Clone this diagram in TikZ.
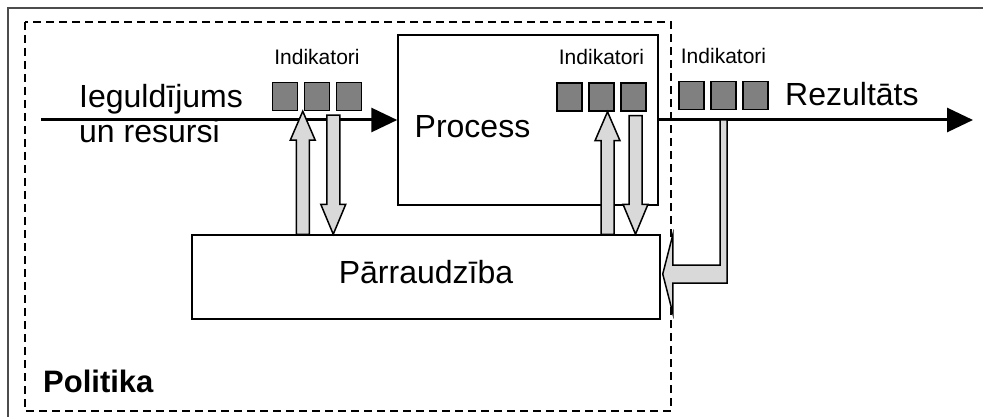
\documentclass[tikz,border=0pt]{standalone}
\usepackage{fontspec}
\setmainfont{Liberation Sans}
\usetikzlibrary{arrows.meta,positioning,calc}

% block arrow: #1 tail, #2 tip, #3 head length (negative points down)
\newcommand{\blkarrow}[3]{%
  \draw[blockarrow] let \p1=#1, \p2=#2 in
    ({\x1-6.5pt},\y1) -- ({\x1-6.5pt},{\y2-(#3)}) -- ({\x1-12.5pt},{\y2-(#3)}) -- (\x2,\y2)
    -- ({\x1+12.5pt},{\y2-(#3)}) -- ({\x1+6.5pt},{\y2-(#3)}) -- ({\x1+6.5pt},\y1) -- cycle;}

\begin{document}
\begin{tikzpicture}[
		x=1pt,y=-1pt,
		box/.style={draw,fill=white,line width=1.5pt,inner sep=0pt},
		ind/.style={draw,fill=gray,line width=1.5pt,minimum width=25pt,minimum height=28pt,inner sep=0pt},
		bigtxt/.style={font=\fontsize{32}{36}\selectfont,inner sep=0pt},
		smalltxt/.style={font=\fontsize{21}{24}\selectfont,inner sep=0pt},
		flow/.style={line width=3pt,-{Triangle[length=26pt,width=24pt]}},
		blockarrow/.style={fill=black!15,draw,line width=1.5pt,line join=miter},
		polframe/.style={dash pattern=on 8pt off 5pt,line width=2pt}
		]
		\useasboundingbox (0,0) rectangle (983,417);
		\draw[black!70,line width=1.5pt] (8,8) rectangle (1000,430);
		\draw[polframe] (25,22) rectangle (671,411);

		\node[box,minimum width=260pt,minimum height=170pt] (process) at (528,120) {};
		\node[bigtxt,anchor=base west] (proctxt) at (414.5,138) {Process};

		\coordinate (in) at (41,120);
		\coordinate (out) at (973,120);
		\draw[flow] (in) -- (process.west);
		\draw[flow] (process.east) -- (out);

		\node[box,bigtxt,minimum width=468pt,minimum height=84pt,text height=22pt,text depth=10pt] (mon) at (426,277) {Pārraudzība};

		% indicators
		\path (285,96.5) node[ind] (s11) {} ++(32,0) node[ind] (s12) {} ++(32,0) node[ind] (s13) {};
		\path (569.5,97) node[ind] (s21) {} ++(32,0) node[ind] (s22) {} ++(32,0) node[ind] (s23) {};
		\path (691.5,95.5) node[ind] (s31) {} ++(32,0) node[ind] (s32) {} ++(32,0) node[ind] (s33) {};
		\node[smalltxt,above=17pt of s12] (ind1) {Indikatori};
		\node[smalltxt,above=17pt of s22] (ind2) {Indikatori};
		\node[smalltxt,above=17pt of s32] (ind3) {Indikatori};

		\node[bigtxt,anchor=base west] (inp1) at (79,108) {Ieguldījums};
		\node[bigtxt,anchor=base west] (inp2) at (79,143) {un resursi};
		\node[bigtxt,anchor=base west] (res) at (785,106) {Rezultāts};
		\node[bigtxt,font=\fontsize{31}{35}\selectfont\bfseries,anchor=base west] (pol) at (43,392) {Politika};

		% measuring arrows
		\coordinate (u1) at ($(s12.south west)+(-1,0)$);
		\coordinate (d1) at ($(s12.south east)+(3,4)$);
		\coordinate (u2) at ($(s22.south)+(6,0)$);
		\coordinate (d2) at ($(s23.south)+(2,4)$);
		\blkarrow{(u1 |- mon.north)}{(u1)}{29pt}
		\blkarrow{(d1)}{(d1 |- mon.north)}{-30pt}
		\blkarrow{(u2 |- mon.north)}{(u2)}{29pt}
		\blkarrow{(d2)}{(d2 |- mon.north)}{-30pt}

		% feedback from result
		\coordinate (fbtip) at ($(mon.east)+(2,-3)$);
		\draw[blockarrow] let \p1=(s32.south |- out), \p2=(fbtip) in
		  ({\x1-3.5pt},\y1) -- ({\x1-3.5pt},{\y2+9pt}) -- ({\x2+10pt},{\y2+9pt}) -- ({\x2+10pt},{\y2+39pt})
		  -- (\x2,\y2) -- ({\x2+10pt},{\y2-39pt}) -- ({\x2+10pt},{\y2-9pt}) -- ({\x1+3.5pt},{\y2-9pt})
		  -- ({\x1+3.5pt},\y1) -- cycle;
	\end{tikzpicture}
\end{document}
